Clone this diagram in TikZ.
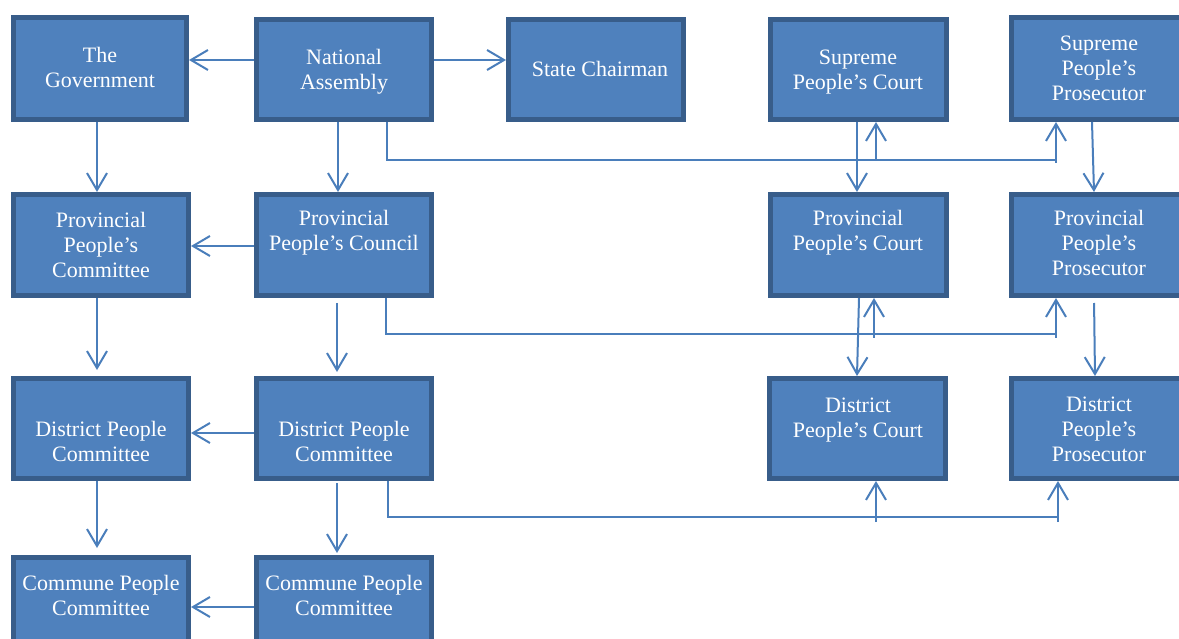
\documentclass[tikz,border=0pt]{standalone}
\usepackage{fontspec}
\setmainfont{Liberation Serif}
\usetikzlibrary{arrows.meta}
\definecolor{boxfill}{HTML}{4F81BD}
\definecolor{boxline}{HTML}{385D8A}
\definecolor{arrcol}{HTML}{4A7EBB}
\tikzset{
  box/.style={rectangle, fill=boxfill, draw=boxline, line width=5pt, inner sep=0pt},
  lbl/.style={text=white, align=center, font=\fontsize{22}{25}\selectfont, anchor=base, inner sep=0pt},
  arr/.style={draw=arrcol, line width=2pt, -{Straight Barb[length=17pt,width=20pt]}},
  link/.style={draw=arrcol, line width=1.5pt}
}
\begin{document}
\begin{tikzpicture}[x=1pt,y=-1pt]
\useasboundingbox (0,0) rectangle (1179,639);
\clip (0,0) rectangle (1179,639);
% row 1
\node[box, minimum width=173pt, minimum height=102pt] (gov) at (100,68.5) {};
\node[box, minimum width=175pt, minimum height=100pt] (na) at (344,69.5) {};
\node[box, minimum width=175pt, minimum height=100pt] (sc) at (596,69.5) {};
\node[box, minimum width=176pt, minimum height=100pt] (spc) at (858.5,69.5) {};
\node[box, minimum width=176pt, minimum height=102pt] (spp) at (1099.5,68.5) {};
% row 2
\node[box, minimum width=175pt, minimum height=101pt] (ppcm) at (101,245) {};
\node[box, minimum width=175pt, minimum height=101pt] (ppco) at (344,245) {};
\node[box, minimum width=176pt, minimum height=101pt] (ppct) at (858.5,245) {};
\node[box, minimum width=176pt, minimum height=101pt] (ppp) at (1099.5,245) {};
% row 3
\node[box, minimum width=175pt, minimum height=100pt] (dpc1) at (101,428.5) {};
\node[box, minimum width=175pt, minimum height=100pt] (dpc2) at (344,428.5) {};
\node[box, minimum width=176pt, minimum height=100pt] (dct) at (857.5,428.5) {};
\node[box, minimum width=176pt, minimum height=100pt] (dpp) at (1099.5,428.5) {};
% row 4
\node[box, minimum width=175pt, minimum height=101pt] (cpc1) at (101,608) {};
\node[box, minimum width=175pt, minimum height=101pt] (cpc2) at (344,608) {};
% labels (anchor = baseline of last line)
\node[lbl] (gov-t) at (100,88) {The\\Government};
\node[lbl] (na-t) at (344,90) {National\\Assembly};
\node[lbl] (sc-t) at (600,77) {State Chairman};
\node[lbl] (spc-t) at (858,90) {Supreme\\People’s Court};
\node[lbl] (spp-t) at (1099,101) {Supreme\\People’s\\Prosecutor};
\node[lbl] (ppcm-t) at (101,278) {Provincial\\People’s\\Committee};
\node[lbl] (ppco-t) at (344,251) {Provincial\\People’s Council};
\node[lbl] (ppct-t) at (858,251) {Provincial\\People’s Court};
\node[lbl] (ppp-t) at (1099,276) {Provincial\\People’s\\Prosecutor};
\node[lbl] (dpc1-t) at (101,461) {District People\\Committee};
\node[lbl] (dpc2-t) at (344,461) {District People\\Committee};
\node[lbl] (dct-t) at (858,437) {District\\People’s Court};
\node[lbl] (dpp-t) at (1099,461) {District\\People’s\\Prosecutor};
\node[lbl] (cpc1-t) at (101,615) {Commune People\\Committee};
\node[lbl] (cpc2-t) at (344,615) {Commune People\\Committee};
% main arrows
\draw[arr] (na.west |- 0,60) -- (gov.east |- 0,60);
\draw[arr] (na.east |- 0,60) -- (sc.west |- 0,60);
\draw[arr] (gov.south -| 97,0) -- (ppcm.north -| 97,0);
\draw[arr] (na.south -| 338,0) -- (ppco.north -| 338,0);
\draw[arr] (ppco.west |- 0,246) -- (ppcm.east |- 0,246);
\draw[arr, shorten >=6pt] (ppcm.south -| 97,0) -- (dpc1.north -| 97,0);
\draw[arr, shorten <=5pt, shorten >=4pt] (ppco.south -| 337,0) -- (dpc2.north -| 337,0);
\draw[arr] (dpc2.west |- 0,433) -- (dpc1.east |- 0,433);
\draw[arr, shorten >=7pt] (dpc1.south -| 97,0) -- (cpc1.north -| 97,0);
\draw[arr, shorten <=2pt, shorten >=2pt] (dpc2.south -| 337,0) -- (cpc2.north -| 337,0);
\draw[arr] (cpc2.west |- 0,607) -- (cpc1.east |- 0,607);
\draw[arr] (spc.south -| 857,0) -- (ppct.north -| 857,0);
\draw[arr] (spp.south -| 1092,0) -- (ppp.north -| 1094,0);
\draw[arr] (ppct.south -| 859,0) -- (dct.north -| 857,0);
\draw[arr, shorten <=5pt] (ppp.south -| 1094,0) -- (dpp.north -| 1095,0);
% bracket A
\coordinate (ea) at (1057,160);
\coordinate (a1) at (876,161);
\coordinate (a2) at (1056,163);
\draw[link] (na.south -| 387,0) |- (ea);
\draw[arr] (a1) -- (spc.south -| 876,0);
\draw[arr] (a2) -- (spp.south -| 1056,0);
% bracket B
\coordinate (eb) at (1056,334);
\coordinate (b1) at (874,338);
\coordinate (b2) at (1056,338);
\draw[link] (ppco.south -| 386,0) |- (eb);
\draw[arr] (b1) -- (ppct.south -| 874,0);
\draw[arr] (b2) -- (ppp.south -| 1056,0);
% bracket C
\coordinate (ec) at (1058,517);
\coordinate (c1) at (876,522);
\coordinate (c2) at (1058,522);
\draw[link] (dpc2.south -| 388,0) |- (ec);
\draw[arr] (c1) -- (dct.south -| 876,0);
\draw[arr] (c2) -- (dpp.south -| 1058,0);
\end{tikzpicture}
\end{document}
